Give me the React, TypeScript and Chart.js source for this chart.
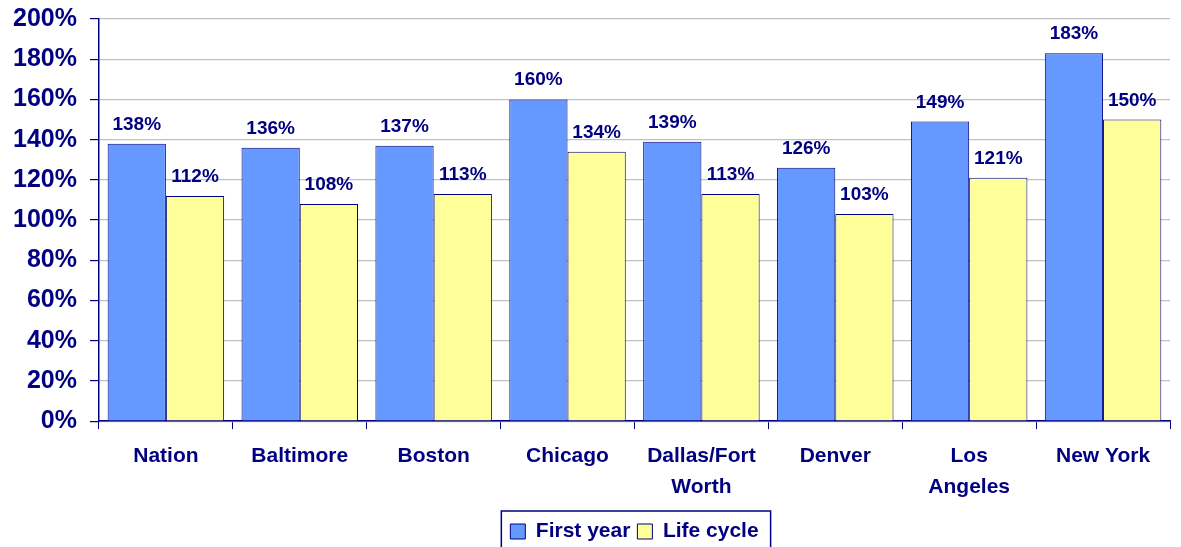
import React, { useEffect, useRef } from "react";
import { Chart, registerables } from "chart.js";

Chart.register(...registerables);

const categories: (string | string[])[] = [
  "Nation",
  "Baltimore",
  "Boston",
  "Chicago",
  ["Dallas/Fort", "Worth"],
  "Denver",
  ["Los", "Angeles"],
  "New York",
];
const firstYear = [138, 136, 137, 160, 139, 126, 149, 183];
const lifeCycle = [112, 108, 113, 134, 113, 103, 121, 150];
const seriesNames = ["First year", "Life cycle"];

const NAVY = "#000080";
const FONT = "Arial, 'Liberation Sans', Helvetica, sans-serif";

const valueLabels = {
  id: "valueLabels",
  afterDatasetsDraw(chart: any) {
    const ctx = chart.ctx;
    ctx.save();
    ctx.fillStyle = NAVY;
    ctx.font = `bold 19px ${FONT}`;
    ctx.textAlign = "center";
    ctx.textBaseline = "alphabetic";
    chart.data.datasets.forEach((ds: any, i: number) => {
      const meta = chart.getDatasetMeta(i);
      meta.data.forEach((bar: any, j: number) => {
        ctx.fillText(`${ds.data[j]}%`, bar.x, bar.y - 14);
      });
    });
    ctx.restore();
  },
};

const legendBorder = {
  id: "legendBorder",
  afterDraw(chart: any) {
    const lg = chart.legend;
    if (!lg || !lg.legendHitBoxes || !lg.legendHitBoxes.length) return;
    const hb = lg.legendHitBoxes;
    const left = hb[0].left - 9;
    const right = hb[hb.length - 1].left + hb[hb.length - 1].width + 12;
    const top = hb[0].top - 10;
    const ctx = chart.ctx;
    ctx.save();
    ctx.strokeStyle = NAVY;
    ctx.lineWidth = 1.5;
    ctx.strokeRect(left, top, right - left, chart.height + 10 - top);
    ctx.restore();
  },
};

export default function App() {
  const ref = useRef<HTMLCanvasElement | null>(null);
  useEffect(() => {
    document.body.style.margin = "0";
    const chart = new Chart(ref.current as HTMLCanvasElement, {
      type: "bar",
      data: {
        labels: categories,
        datasets: [
          {
            label: seriesNames[0],
            data: firstYear,
            backgroundColor: "#6699FF",
            borderColor: NAVY,
            borderWidth: 1,
          },
          {
            label: seriesNames[1],
            data: lifeCycle,
            backgroundColor: "#FFFF99",
            borderColor: NAVY,
            borderWidth: 1,
          },
        ],
      },
      options: {
        animation: false,
        responsive: false,
        maintainAspectRatio: false,
        layout: { padding: { left: 0, right: 11, top: 19, bottom: -5 } },
        datasets: { bar: { categoryPercentage: 0.87, barPercentage: 1 } },
        plugins: {
          tooltip: { enabled: false },
          legend: {
            position: "bottom",
            fullSize: false,
            labels: {
              color: NAVY,
              font: { family: FONT, size: 21, weight: "bold" },
              boxWidth: 15,
              boxHeight: 15,
              padding: 7,
            },
          },
        },
        scales: {
          x: {
            grid: {
              display: true,
              drawOnChartArea: false,
              offset: true,
              color: NAVY,
              tickLength: 8,
            },
            border: { color: NAVY, width: 1.5 },
            ticks: {
              color: NAVY,
              font: { family: FONT, size: 21, weight: "bold", lineHeight: 1.45 },
              padding: 12,
              maxRotation: 0,
              autoSkip: false,
            },
          },
          y: {
            min: 0,
            max: 200,
            afterFit: (scale: any) => {
              scale.paddingTop = 0;
            },
            grid: { color: "#C0C0C0", lineWidth: 1.2, tickColor: NAVY, tickLength: 9 },
            border: { color: NAVY, width: 1.5 },
            ticks: {
              stepSize: 20,
              color: NAVY,
              font: { family: FONT, size: 25, weight: "bold" },
              padding: 13,
              callback: (v: any) => `${v}%`,
            },
          },
        },
      },
      plugins: [valueLabels, legendBorder],
    });
    return () => chart.destroy();
  }, []);
  return (
    <div style={{ position: "absolute", left: 0, top: 0, width: 1181, height: 547, background: "#fff" }}>
      <canvas ref={ref} width={1181} height={547} />
    </div>
  );
}
